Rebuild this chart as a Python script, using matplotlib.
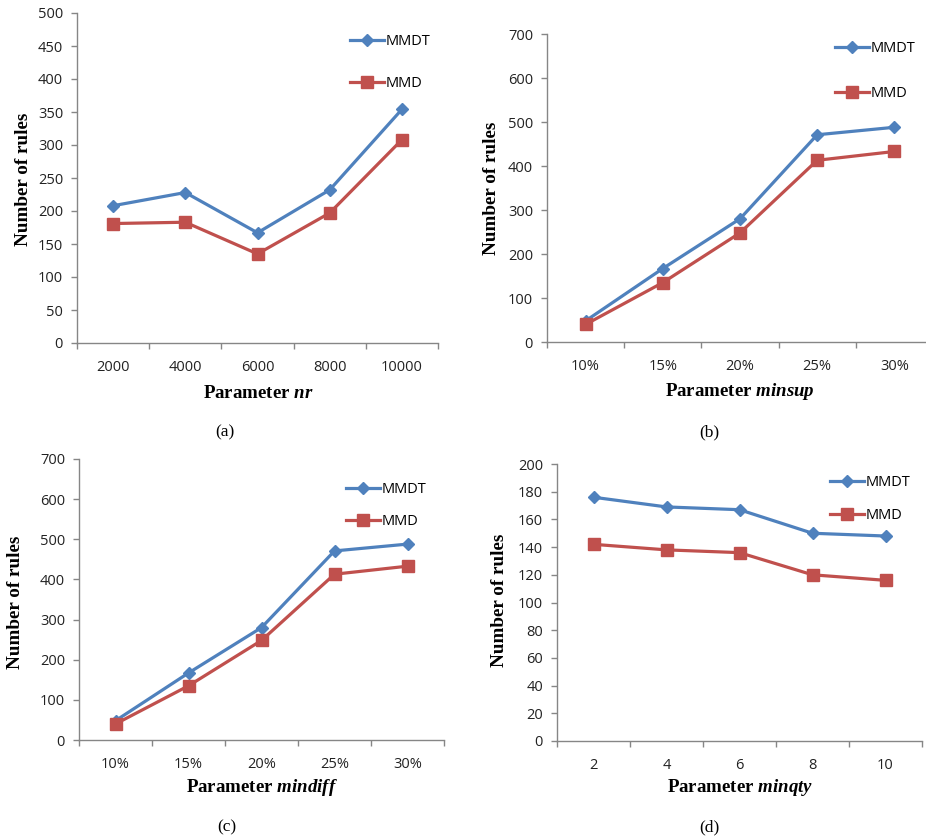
import numpy as np
import matplotlib
matplotlib.use('Agg')
import matplotlib.pyplot as plt

plt.rcParams['mathtext.fontset'] = 'custom'
plt.rcParams['mathtext.rm'] = 'Liberation Serif:bold'
plt.rcParams['mathtext.it'] = 'Liberation Serif:italic:bold'
plt.rcParams['mathtext.bf'] = 'Liberation Serif:bold'

# data
nr_labels = ['2000', '4000', '6000', '8000', '10000']
nr_mmdt = [208, 228, 167, 232, 354]
nr_mmd = [181, 183, 135, 197, 308]

minsup_labels = ['10%', '15%', '20%', '25%', '30%']
minsup_mmdt = [48, 167, 280, 471, 488]
minsup_mmd = [40, 135, 248, 413, 433]

mindiff_labels = ['10%', '15%', '20%', '25%', '30%']
mindiff_mmdt = [48, 167, 280, 471, 488]
mindiff_mmd = [40, 135, 248, 413, 433]

minqty_labels = ['2', '4', '6', '8', '10']
minqty_mmdt = [176, 169, 167, 150, 148]
minqty_mmd = [142, 138, 136, 120, 116]

W, H = 926, 840
BLUE = '#4F81BD'
RED = '#C0504D'
GREY = '#868686'
TICKFONT = 'Open Sans'

fig = plt.figure(figsize=(W / 100, H / 100), dpi=100)


def px(x, y):
    return x / W, 1 - y / H


def rect(l, t, r, b):
    return [l / W, 1 - b / H, (r - l) / W, (b - t) / H]


def panel(box, labels, mmdt, mmd, ymax, ystep, xname, ylab_xy, xlab_xy,
          tag, tag_xy, leg_xy, leg_space):
    ax = fig.add_axes(rect(*box))
    x = np.arange(len(labels))
    ax.plot(x, mmdt, color=BLUE, lw=2.3, marker='D', ms=6.5, label='MMDT')
    ax.plot(x, mmd, color=RED, lw=2.3, marker='s', ms=8.5, label='MMD')
    ax.set_xlim(-0.5, len(labels) - 0.5)
    ax.set_ylim(0, ymax)
    ax.set_yticks(np.arange(0, ymax + 1, ystep))
    ax.set_xticks(x)
    ax.set_xticklabels(labels)
    ax.set_xticks(np.arange(-0.5, len(labels), 1.0), minor=True)
    for s in ['top', 'right']:
        ax.spines[s].set_visible(False)
    for s in ['left', 'bottom']:
        ax.spines[s].set_color(GREY)
        ax.spines[s].set_linewidth(1.0)
    ax.tick_params(axis='x', which='major', length=0, pad=12)
    ax.tick_params(axis='x', which='minor', length=4, color=GREY, width=1.0)
    ax.tick_params(axis='y', length=4, color=GREY, width=1.0, pad=6)
    for t in ax.get_xticklabels() + ax.get_yticklabels():
        t.set_fontfamily(TICKFONT)
        t.set_fontsize(10.5)
        t.set_color('#222222')

    fig.text(*px(*ylab_xy), 'Number of rules', rotation=90, ha='center',
             va='center', fontfamily='Liberation Serif', fontweight='bold',
             fontsize=13.8)
    fig.text(*px(*xlab_xy), 'Parameter $\\mathit{' + xname + '}$', ha='center',
             va='center', fontfamily='Liberation Serif', fontweight='bold',
             fontsize=13.6)
    fig.text(*px(*tag_xy), tag, ha='center', va='center',
             fontfamily='Liberation Serif', fontsize=12.5)

    ax.legend(loc='center left', bbox_to_anchor=px(*leg_xy),
              bbox_transform=fig.transFigure, frameon=False,
              borderpad=0, borderaxespad=0, handlelength=2.3,
              handletextpad=0.15, labelspacing=leg_space,
              prop={'family': TICKFONT, 'size': 10.5})
    return ax


panel((77, 13, 438, 343), nr_labels, nr_mmdt, nr_mmd, 500, 50, 'nr',
      (24, 179), (258, 394), '(a)', (225, 432), (350, 62.5), 1.9)
panel((547, 34, 933, 342), minsup_labels, minsup_mmdt, minsup_mmd, 700, 100,
      'minsup', (492, 188), (740, 392), '(b)', (709, 432), (835, 71), 2.05)
panel((79, 459, 444, 740), mindiff_labels, mindiff_mmdt, mindiff_mmd, 700, 100,
      'mindiff', (16, 602), (262, 787), '(c)', (227, 827), (346, 505.5), 1.15)
panel((557, 464, 922, 741), minqty_labels, minqty_mmdt, minqty_mmd, 200, 20,
      'minqty', (500, 600), (740, 787), '(d)', (709, 827), (830, 499), 1.2)

fig.savefig('out.png', dpi=100)
